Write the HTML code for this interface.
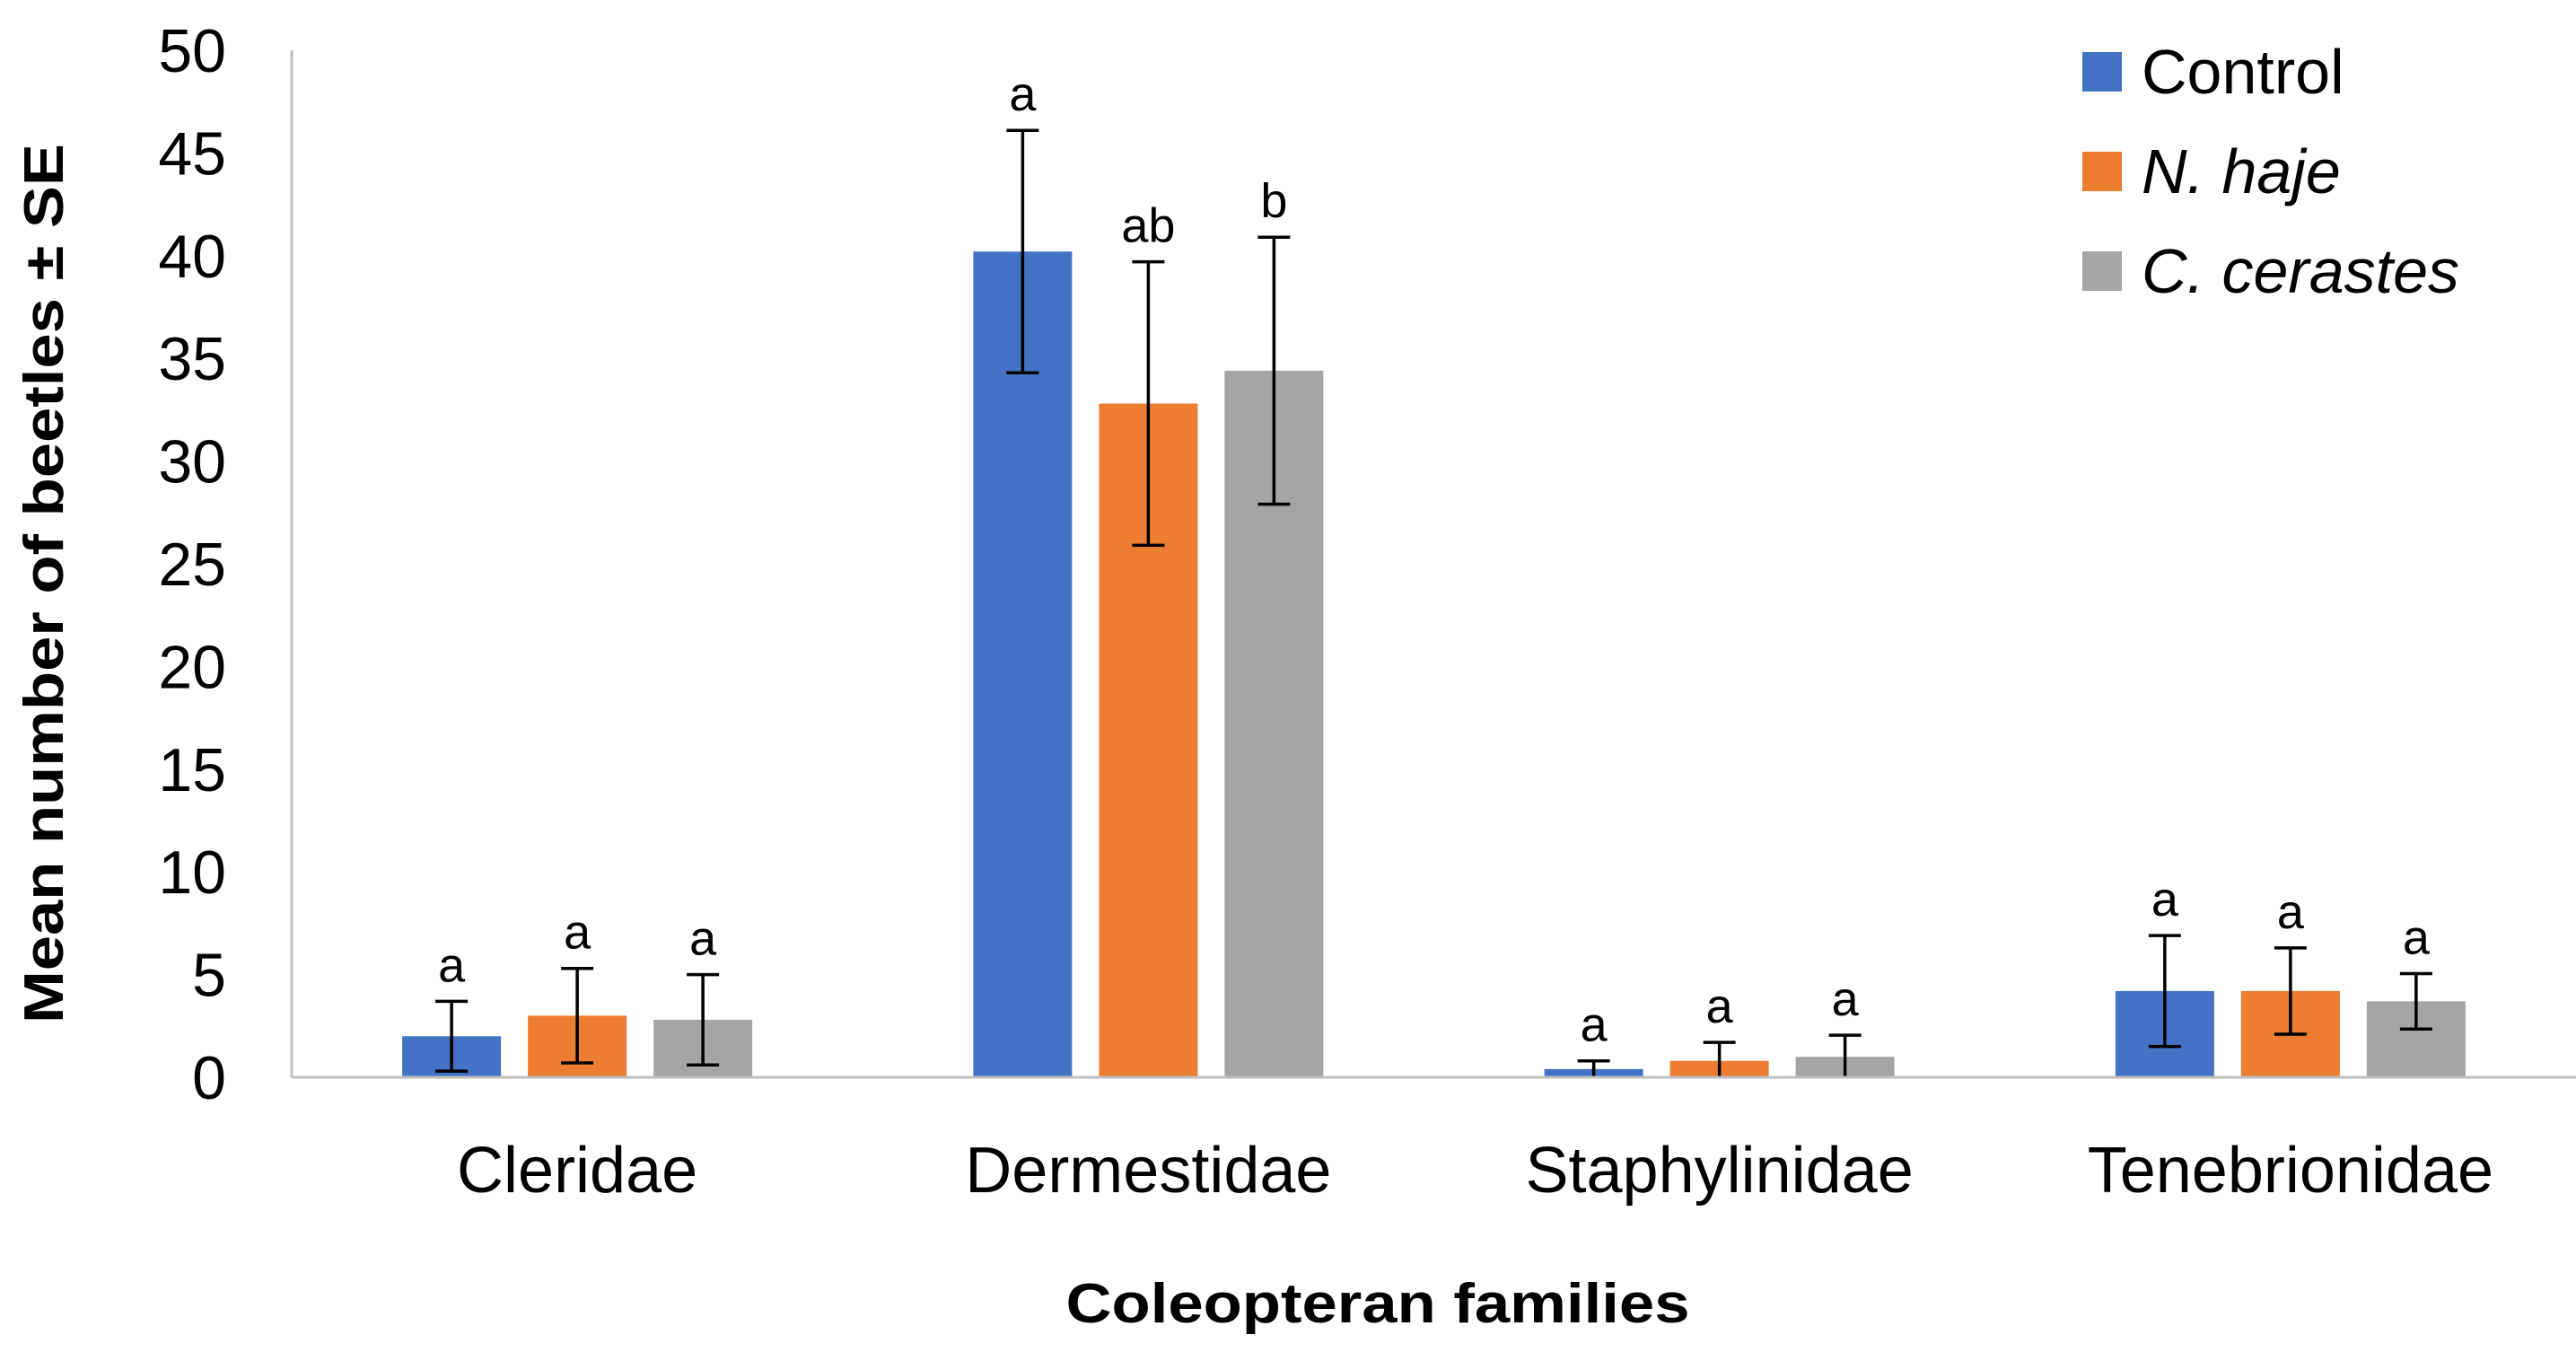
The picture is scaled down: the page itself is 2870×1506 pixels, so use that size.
<!DOCTYPE html>
<html><head><meta charset="utf-8"><style>
html,body{margin:0;padding:0;background:#fff}
svg{display:block}
text{font-family:"Liberation Sans",sans-serif;fill:#000}
</style></head><body>
<svg id="chart" width="2870" height="1506" viewBox="0 0 2870 1506" xmlns="http://www.w3.org/2000/svg">
<g id="yaxis"></g>
<g id="bars"></g>
<g id="xaxis"></g>
<text transform="translate(70,650) rotate(-90)" text-anchor="middle" font-size="62" font-weight="bold" textLength="980" lengthAdjust="spacingAndGlyphs">Mean number of beetles ± SE</text>
<text x="1535" y="1473" text-anchor="middle" font-size="62" font-weight="bold" textLength="695" lengthAdjust="spacingAndGlyphs">Coleopteran families</text>
<g id="legend"></g>
</svg>
<script>
const categories = ["Cleridae","Dermestidae","Staphylinidae","Tenebrionidae"];
const seriesNames = ["Control","N. haje","C. cerastes"];
const controlMeans = [2.0, 40.2, 0.4, 4.2];
const nhajeMeans = [3.0, 32.8, 0.8, 4.2];
const ccerastesMeans = [2.8, 34.4, 1.0, 3.7];
const controlSE = [1.7, 5.9, 0.4, 2.7];
const nhajeSE = [2.3, 6.9, 0.9, 2.1];
const ccerastesSE = [2.2, 6.5, 1.05, 1.35];
const controlLetters = ["a","a","a","a"];
const nhajeLetters = ["a","ab","a","a"];
const ccerastesLetters = ["a","b","a","a"];
const yTicks = [0,5,10,15,20,25,30,35,40,45,50];

const NS="http://www.w3.org/2000/svg";
const colors=["#4472C4","#ED7D31","#A5A5A5"];
const means=[controlMeans,nhajeMeans,ccerastesMeans];
const ses=[controlSE,nhajeSE,ccerastesSE];
const letters=[controlLetters,nhajeLetters,ccerastesLetters];
const x0=325, x1=2870, y0=1200, yTop=56, yMax=50;
const y=v=>y0-(v/yMax)*(y0-yTop);
const band=(x1-x0)/categories.length;
const cx=i=>x0+band*(i+0.5);
const barW=110, pitch=140;
function mk(tag,attrs,parent){const e=document.createElementNS(NS,tag);for(const k in attrs)e.setAttribute(k,attrs[k]);parent.appendChild(e);return e;}
const ya=document.getElementById('yaxis'), bg=document.getElementById('bars'), xa=document.getElementById('xaxis'), lg=document.getElementById('legend');
yTicks.forEach(t=>{
  const tx=mk('text',{x:252,y:y(t)+24,'text-anchor':'end','font-size':68},ya);
  tx.textContent=t;
  
  
});
const yl=mk('line',{x1:x0,y1:yTop,x2:x0,y2:y0,stroke:'#BFBFBF','stroke-width':3},ya);


categories.forEach((c,i)=>{
  for(let s=0;s<3;s++){
    const bx=cx(i)+(s-1)*pitch;
    const v=means[s][i];
    const r=mk('rect',{x:bx-barW/2,y:y(v),width:barW,height:y0-y(v),fill:colors[s]},bg);
    
    
    const hi=v+ses[s][i], lo=Math.max(0,v-ses[s][i]);
    const g=mk('g',{stroke:'#000','stroke-width':3.5},bg);
    
    
    mk('line',{x1:bx,y1:y(hi),x2:bx,y2:y(lo)},g);
    mk('line',{x1:bx-18,y1:y(hi),x2:bx+18,y2:y(hi)},g);
    if(lo>0) mk('line',{x1:bx-18,y1:y(lo),x2:bx+18,y2:y(lo)},g);
    const lt=mk('text',{x:bx,y:y(hi)-22,'text-anchor':'middle','font-size':54},bg);
    lt.textContent=letters[s][i];
    
    
  }
  const cl=mk('text',{x:cx(i),y:1328,'text-anchor':'middle','font-size':72},xa);
  cl.textContent=c;
  
  
});
const xl=mk('line',{x1:x0,y1:y0,x2:x1,y2:y0,stroke:'#BFBFBF','stroke-width':3},xa);


seriesNames.forEach((n,s)=>{
  const ry=80+s*111;
  const sq=mk('rect',{x:2320,y:ry-22,width:44,height:44,fill:colors[s]},lg);
  
  
  const t=mk('text',{x:2386,y:ry+24,'font-size':70},lg);
  if(s>0) t.setAttribute('font-style','italic');
  t.textContent=n;
  
  
});
</script>
</body></html>
